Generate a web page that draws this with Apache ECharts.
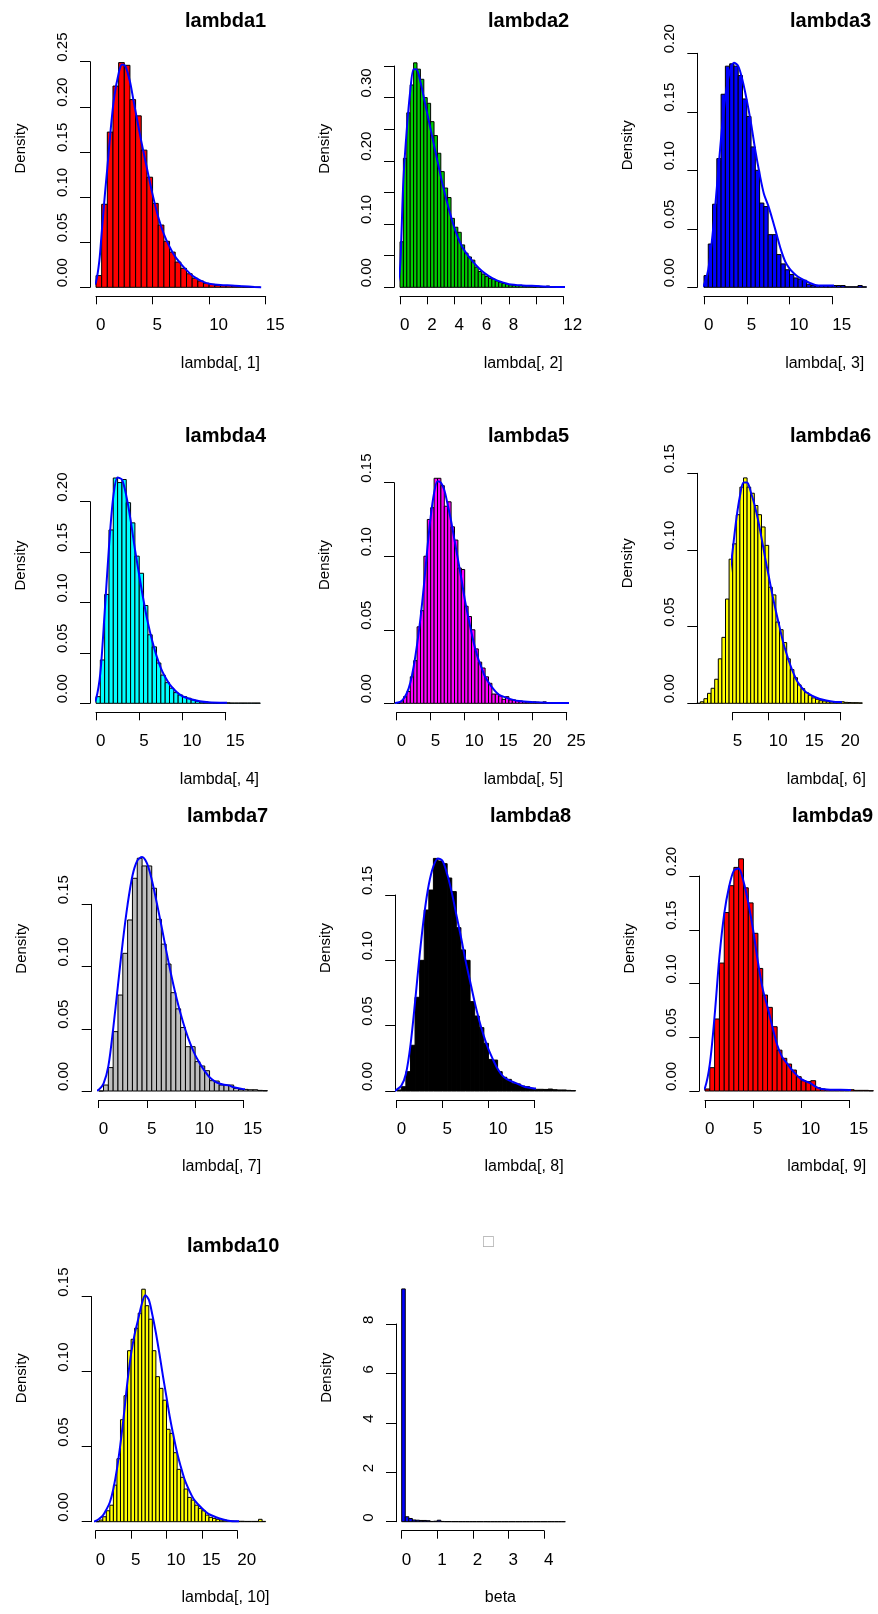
<!DOCTYPE html>
<html>

<head>
    <meta charset="UTF-8">
    <title>lambda histograms</title>
    <script src="https://cdn.jsdelivr.net/npm/echarts@6/dist/echarts.min.js"></script>
    <style>
        html, body { margin: 0; padding: 0; background: #fff; }
        #chart { width: 878px; height: 1614px; }
    </style>
</head>

<body>
    <div id="chart"></div>
    <script>
        // histogram densities (bin width given per panel, bins start at 0)
        const hist1 = [0.013, 0.092, 0.172, 0.223, 0.249, 0.246, 0.208, 0.190, 0.152, 0.122, 0.093, 0.069, 0.051, 0.039, 0.028, 0.021, 0.015, 0.010, 0.007, 0.0045, 0.0033, 0.002, 0.0018, 0.0018, 0.0015, 0.001, 0.0005, 0.0003, 0.0002];
        const hist2 = [0.072, 0.204, 0.276, 0.320, 0.355, 0.345, 0.329, 0.300, 0.291, 0.262, 0.240, 0.212, 0.183, 0.157, 0.142, 0.109, 0.095, 0.087, 0.067, 0.054, 0.048, 0.043, 0.032, 0.025, 0.021, 0.017, 0.014, 0.013, 0.010, 0.008, 0.006, 0.005, 0.004, 0.003, 0.003, 0.003, 0.002, 0.002, 0.001, 0.0005, 0.002, 0.0005, 0.0005, 0.002, 0.0005, 0.0003];
        const hist3 = [0.010, 0.037, 0.071, 0.110, 0.165, 0.189, 0.191, 0.189, 0.181, 0.161, 0.146, 0.120, 0.100, 0.072, 0.069, 0.045, 0.045, 0.028, 0.020, 0.015, 0.011, 0.008, 0.007, 0.006, 0.0026, 0.0015, 0.0015, 0.0015, 0.0015, 0.0015, 0.0015, 0.0015, 0.0015, 0.0005, 0.0005, 0.0005, 0.0015, 0.0005];
        const hist4 = [0.0066, 0.043, 0.108, 0.172, 0.2235, 0.219, 0.222, 0.199, 0.179, 0.146, 0.129, 0.097, 0.068, 0.056, 0.040, 0.028, 0.0205, 0.015, 0.0106, 0.0083, 0.0066, 0.005, 0.0033, 0.002, 0.0013, 0.0013, 0.0007, 0.0005, 0.0005, 0.0005, 0.0005, 0.0003, 0.0003, 0.0003, 0.0003, 0.0003, 0.0003, 0.0003];
        const hist5 = [0, 0.001, 0.0045, 0.008, 0.018, 0.029, 0.052, 0.063, 0.100, 0.125, 0.133, 0.153, 0.153, 0.148, 0.134, 0.137, 0.120, 0.111, 0.092, 0.091, 0.066, 0.059, 0.050, 0.037, 0.028, 0.024, 0.018, 0.0136, 0.0063, 0.0063, 0.005, 0.0027, 0.0045, 0.0023, 0.0023, 0.0018, 0.0016, 0.001, 0.0008, 0.0008, 0.001, 0.0008, 0.0006, 0.001, 0.0005, 0.0004, 0.0004, 0.0003];
        const hist6 = [0, 0.001, 0.003, 0.0065, 0.0098, 0.0157, 0.029, 0.043, 0.068, 0.094, 0.104, 0.123, 0.141, 0.147, 0.141, 0.137, 0.129, 0.123, 0.115, 0.103, 0.0757, 0.0707, 0.053, 0.048, 0.0396, 0.029, 0.022, 0.0167, 0.012, 0.0096, 0.007, 0.0052, 0.0035, 0.0026, 0.0017, 0.0015, 0.001, 0.0009, 0.0007, 0.0009, 0.001, 0.0006, 0.0005, 0.0004, 0.0004, 0.0003];
        const hist7 = [0, 0.0048, 0.0188, 0.0477, 0.0771, 0.1106, 0.1374, 0.1709, 0.187, 0.1808, 0.1808, 0.1629, 0.138, 0.118, 0.102, 0.079, 0.066, 0.051, 0.0356, 0.0356, 0.0236, 0.0201, 0.0163, 0.0083, 0.0080, 0.0048, 0.0048, 0.0048, 0.0021, 0.0013, 0.0013, 0.001, 0.001, 0.0005, 0.0003];
        const hist8 = [0.0008, 0.0033, 0.0148, 0.035, 0.0717, 0.100, 0.1385, 0.1538, 0.178, 0.176, 0.174, 0.163, 0.1526, 0.125, 0.108, 0.100, 0.0684, 0.0574, 0.0485, 0.0365, 0.0242, 0.0237, 0.0148, 0.0105, 0.0089, 0.0059, 0.0054, 0.0038, 0.0033, 0.002, 0.0013, 0.0013, 0.0012, 0.0015, 0.001, 0.0008, 0.0008, 0.0005, 0.0003];
        const hist9 = [0.0019, 0.0217, 0.067, 0.119, 0.166, 0.191, 0.208, 0.216, 0.189, 0.175, 0.1467, 0.114, 0.0893, 0.0778, 0.0598, 0.038, 0.0304, 0.0251, 0.0195, 0.0133, 0.0096, 0.0087, 0.0096, 0.0031, 0.0019, 0.0012, 0.0012, 0.0012, 0.0012, 0.0012, 0.0012, 0.0006, 0.0006, 0.0006, 0.0003];
        const hist10 = [0, 0.0011, 0.0033, 0.0073, 0.011, 0.0244, 0.042, 0.068, 0.084, 0.114, 0.1216, 0.129, 0.139, 0.155, 0.144, 0.135, 0.114, 0.0967, 0.0889, 0.081, 0.0616, 0.0589, 0.046, 0.0349, 0.0296, 0.0218, 0.0162, 0.0144, 0.011, 0.0089, 0.0073, 0.0044, 0.0029, 0.0022, 0.0016, 0.0011, 0.0011, 0.0007, 0.0005, 0.0004, 0.0003, 0.0003, 0.0002, 0.0002, 0.0002, 0.0002, 0.0016, 0.0002];
        const histBeta = [9.42, 0.20, 0.13, 0.07, 0.06, 0.05, 0.05, 0.04, 0.01, 0.02, 0.06, 0.01, 0.005, 0.005, 0.004, 0.004, 0.003, 0.003, 0.003, 0.002, 0.002, 0.002, 0.002, 0.002, 0.001, 0.001, 0.001, 0.001, 0.001, 0.001, 0.001, 0.001, 0.001, 0.001, 0.001, 0.001, 0.001, 0.001, 0.001, 0.001, 0.001, 0.001, 0.001, 0.001, 0.001, 0.001];

        // kernel density curves [x, density]
        const dens1 = [[-0.6, 0], [-0.3, 0.001], [0, 0.006], [0.3, 0.03], [0.5, 0.06], [0.8, 0.105], [1, 0.132], [1.3, 0.175], [1.6, 0.21], [2, 0.237], [2.3, 0.247], [2.6, 0.245], [3, 0.228], [3.3, 0.208], [3.6, 0.188], [4, 0.162], [4.5, 0.132], [5, 0.103], [5.5, 0.078], [6, 0.059], [6.5, 0.045], [7, 0.034], [7.5, 0.026], [8, 0.019], [8.5, 0.013], [9, 0.009], [9.5, 0.006], [10, 0.004], [11, 0.0025], [12, 0.002], [13, 0.0012], [14, 0.0004], [14.6, 0.0001]];
        const dens2 = [[-0.5, 0], [-0.2, 0.005], [0, 0.03], [0.1, 0.08], [0.25, 0.17], [0.5, 0.25], [0.75, 0.31], [1, 0.345], [1.2, 0.345], [1.5, 0.325], [1.8, 0.295], [2.1, 0.265], [2.4, 0.235], [2.7, 0.205], [3, 0.175], [3.3, 0.148], [3.6, 0.123], [4, 0.094], [4.5, 0.067], [5, 0.05], [5.5, 0.037], [6, 0.026], [6.5, 0.018], [7, 0.012], [7.5, 0.008], [8, 0.005], [9, 0.003], [10, 0.002], [11, 0.001], [12.4, 0.0002]];
        const dens3 = [[-0.3, 0], [0, 0.002], [0.5, 0.015], [1, 0.045], [1.5, 0.085], [2, 0.128], [2.5, 0.163], [3, 0.184], [3.5, 0.192], [4, 0.189], [4.5, 0.177], [5, 0.16], [5.5, 0.14], [6, 0.117], [6.5, 0.097], [7, 0.08], [7.5, 0.07], [8, 0.058], [8.5, 0.045], [9, 0.032], [9.5, 0.022], [10, 0.016], [10.5, 0.012], [11, 0.009], [12, 0.005], [13, 0.002], [14, 0.0015], [16, 0.0015], [17, 0.0005], [18, 0.0005], [20, 0.0002]];
        const dens4 = [[-0.4, 0], [0, 0.004], [0.5, 0.03], [1, 0.09], [1.5, 0.155], [2, 0.205], [2.5, 0.224], [3, 0.222], [3.5, 0.206], [4, 0.182], [4.5, 0.153], [5, 0.127], [5.5, 0.102], [6, 0.08], [6.5, 0.062], [7, 0.047], [7.5, 0.035], [8, 0.026], [8.5, 0.019], [9, 0.014], [9.5, 0.01], [10, 0.007], [11, 0.004], [12, 0.002], [13, 0.001], [15, 0.0005], [19.5, 0.0001]];
        const dens5 = [[-0.5, 0], [0.5, 0.001], [1, 0.003], [1.5, 0.007], [2, 0.014], [2.5, 0.025], [3, 0.04], [3.5, 0.058], [4, 0.08], [4.5, 0.105], [5, 0.127], [5.5, 0.143], [6, 0.151], [6.5, 0.15], [7, 0.145], [7.5, 0.135], [8, 0.124], [8.5, 0.111], [9, 0.098], [9.5, 0.085], [10, 0.071], [10.5, 0.059], [11, 0.048], [11.5, 0.038], [12, 0.03], [12.5, 0.024], [13, 0.018], [14, 0.011], [15, 0.006], [16, 0.004], [17, 0.0025], [18, 0.0015], [20, 0.0008], [22, 0.0004], [25.8, 0.0001]];
        const dens6 = [[0, 0], [0.5, 0.0005], [1, 0.002], [2, 0.008], [2.5, 0.014], [3, 0.025], [3.5, 0.04], [4, 0.058], [4.5, 0.08], [5, 0.1], [5.5, 0.12], [6, 0.135], [6.5, 0.144], [7, 0.144], [7.5, 0.138], [8, 0.13], [8.5, 0.12], [9, 0.108], [9.5, 0.095], [10, 0.083], [10.5, 0.071], [11, 0.06], [11.5, 0.05], [12, 0.04], [12.5, 0.032], [13, 0.025], [13.5, 0.019], [14, 0.014], [15, 0.008], [16, 0.005], [17, 0.003], [18, 0.0018], [19, 0.001], [20, 0.0008], [22, 0.0004], [24.8, 0.0001]];
        const dens7 = [[-0.4, 0], [0, 0.001], [0.5, 0.006], [1, 0.02], [1.5, 0.05], [2, 0.085], [2.5, 0.12], [3, 0.15], [3.5, 0.173], [4, 0.185], [4.5, 0.188], [5, 0.183], [5.5, 0.17], [6, 0.152], [6.5, 0.133], [7, 0.113], [7.5, 0.094], [8, 0.077], [8.5, 0.062], [9, 0.049], [9.5, 0.038], [10, 0.029], [10.5, 0.022], [11, 0.016], [11.5, 0.011], [12, 0.008], [12.5, 0.006], [13, 0.005], [13.5, 0.0045], [14, 0.003], [15, 0.0015], [16, 0.001], [17.6, 0.0002]];
        const dens8 = [[-0.2, 0], [0, 0.001], [0.5, 0.004], [1, 0.013], [1.5, 0.035], [2, 0.068], [2.5, 0.104], [3, 0.135], [3.5, 0.158], [4, 0.172], [4.5, 0.178], [5, 0.176], [5.5, 0.166], [6, 0.152], [6.5, 0.135], [7, 0.118], [7.5, 0.1], [8, 0.084], [8.5, 0.068], [9, 0.054], [9.5, 0.042], [10, 0.032], [10.5, 0.024], [11, 0.017], [11.5, 0.012], [12, 0.009], [13, 0.006], [14, 0.003], [15, 0.002], [16, 0.0015], [17, 0.001], [19.3, 0.0002]];
        const dens9 = [[-0.4, 0], [0, 0.003], [0.5, 0.025], [1, 0.07], [1.5, 0.125], [2, 0.165], [2.5, 0.19], [3, 0.205], [3.5, 0.207], [4, 0.195], [4.5, 0.175], [5, 0.15], [5.5, 0.12], [6, 0.095], [6.5, 0.078], [7, 0.06], [7.5, 0.043], [8, 0.032], [8.5, 0.026], [9, 0.02], [9.5, 0.015], [10, 0.011], [10.5, 0.009], [11, 0.007], [11.5, 0.004], [12, 0.002], [13, 0.0012], [15, 0.001], [17.5, 0.0002]];
        const dens10 = [[-0.3, 0], [0, 0.0005], [0.5, 0.002], [1, 0.004], [1.5, 0.008], [2, 0.013], [2.5, 0.022], [3, 0.035], [3.5, 0.052], [4, 0.072], [4.5, 0.094], [5, 0.112], [5.5, 0.125], [6, 0.135], [6.5, 0.145], [7, 0.151], [7.5, 0.148], [8, 0.138], [8.5, 0.126], [9, 0.112], [9.5, 0.097], [10, 0.083], [10.5, 0.069], [11, 0.057], [11.5, 0.046], [12, 0.037], [12.5, 0.029], [13, 0.023], [13.5, 0.018], [14, 0.014], [15, 0.009], [16, 0.005], [17, 0.003], [18, 0.0015], [19, 0.0005], [20, 0.0003], [22, 0.0002], [24.5, 0.0001]];

        // titles, x labels, fill colours
        const titles = ['lambda1', 'lambda2', 'lambda3', 'lambda4', 'lambda5', 'lambda6', 'lambda7', 'lambda8', 'lambda9', 'lambda10', '\u25A1'];
        const xNames = ['lambda[, 1]', 'lambda[, 2]', 'lambda[, 3]', 'lambda[, 4]', 'lambda[, 5]', 'lambda[, 6]', 'lambda[, 7]', 'lambda[, 8]', 'lambda[, 9]', 'lambda[, 10]', 'beta'];
        const fills = ['#FF0000', '#00CD00', '#0000FF', '#00FFFF', '#FF00FF', '#FFFF00', '#BEBEBE', '#000000', '#FF0000', '#FFFF00', '#0000FF'];

        const FONT = '"Liberation Sans", Arial, sans-serif';

        // panel layout (pixels) and axis ranges
        const panels = [
            { hist: hist1, bw: 0.5, dens: dens1, g: [96, 61.7, 169.7, 225.6], x: [0, 15, 5], y: [0, 0.25, 0.05], yOff: 6, tx: 180, ty: 18, xs: 0, ys: 1 },
            { hist: hist2, bw: 0.25, dens: dens2, g: [400, 66, 163.3, 221.3], x: [0, 12, 2], y: [0, 0.35, 0.05], yOff: 6, tx: 483, ty: 18, xs: 2, ys: 3, skipX: [10], oddY: true },
            { hist: hist3, bw: 0.5, dens: dens3, g: [704, 53.3, 128.3, 234], x: [0, 15, 5], y: [0, 0.20, 0.05], yOff: 6.7, tx: 785, ty: 18, xs: 17, ys: 0 },
            { hist: hist4, bw: 0.5, dens: dens4, g: [96, 501.7, 129.7, 201.6], x: [0, 15, 5], y: [0, 0.20, 0.05], yOff: 6, tx: 180, ty: 433, xs: 19, ys: 12 },
            { hist: hist5, bw: 0.5, dens: dens5, g: [396.7, 482.7, 170, 220.6], x: [0, 25, 5], y: [0, 0.15, 0.05], yOff: 2.7, tx: 483, ty: 433, xs: 2, ys: 3 },
            { hist: hist6, bw: 0.5, dens: dens6, g: [732.7, 473.3, 108, 230], x: [5, 20, 5], y: [0, 0.15, 0.05], yOff: 35.4, tx: 785, ty: 433, xs: 0, ys: 0 },
            { hist: hist7, bw: 0.5, dens: dens7, g: [98.7, 904.3, 144.6, 186.7], x: [0, 15, 5], y: [0, 0.15, 0.05], yOff: 7, tx: 182, ty: 813, xs: 11, ys: 24 },
            { hist: hist8, bw: 0.5, dens: dens8, g: [396.7, 895, 137.6, 196], x: [0, 15, 5], y: [0, 0.15, 0.05], yOff: 1.5, tx: 485, ty: 813, xs: 19, ys: 20 },
            { hist: hist9, bw: 0.5, dens: dens9, g: [705, 876, 144.3, 215], x: [0, 15, 5], y: [0, 0.20, 0.05], yOff: 5.7, tx: 787, ty: 813, xs: 10, ys: 10 },
            { hist: hist10, bw: 0.5, dens: dens10, g: [95.7, 1296.7, 141.6, 225], x: [0, 20, 5], y: [0, 0.15, 0.05], yOff: 4, tx: 182, ty: 1243, xs: 15, ys: 6 },
            { hist: histBeta, bw: 0.1, dens: null, g: [401.7, 1324, 142.3, 197.7], x: [0, 4, 1], y: [0, 8, 2], yOff: 5.7, tx: 478, ty: 1240, xs: 12, ys: 20, intY: true }
        ];

        const chart = echarts.init(document.getElementById('chart'), null, { renderer: 'canvas' });

        const grid = [], xAxis = [], yAxis = [], series = [], title = [];

        panels.forEach((p, i) => {
            grid.push({ left: p.g[0], top: p.g[1], width: p.g[2], height: p.g[3], containLabel: false });

            title.push({
                text: titles[i], left: p.tx, top: p.ty - 12,
                textStyle: i === 10
                    ? { fontFamily: FONT, fontSize: 18, fontWeight: 'normal', color: '#aaa' }
                    : { fontFamily: FONT, fontSize: 20, fontWeight: 'bold', color: '#000' }
            });

            xAxis.push({
                type: 'value', gridIndex: i, min: p.x[0], max: p.x[1], interval: p.x[2],
                position: 'bottom', offset: 9,
                splitLine: { show: false },
                axisLine: { show: true, onZero: false, lineStyle: { color: '#000', width: 1 } },
                axisTick: { show: true, length: 8, lineStyle: { color: '#000' } },
                axisLabel: {
                    margin: 21, align: 'left', color: '#000', fontSize: 17, fontFamily: FONT,
                    formatter: v => (p.skipX && p.skipX.includes(v)) ? '' : String(v)
                },
                name: xNames[i], nameLocation: 'middle', nameGap: 59,
                nameTextStyle: { align: 'left', color: '#000', fontSize: 16, fontFamily: FONT, padding: [0, 0, 0, p.xs] }
            });

            yAxis.push({
                type: 'value', gridIndex: i, min: p.y[0], max: p.y[1], interval: p.y[2],
                position: 'left', offset: p.yOff,
                splitLine: { show: false },
                axisLine: { show: true, onZero: false, lineStyle: { color: '#000', width: 1 } },
                axisTick: { show: true, length: 10, lineStyle: { color: '#000' } },
                axisLabel: {
                    rotate: 90, margin: 20, align: 'left', color: '#000', fontSize: 15, fontFamily: FONT,
                    formatter: v => {
                        if (p.intY) return String(Math.round(v));
                        if (p.oddY && Math.round(v * 100) % 10 !== 0) return '';
                        return v.toFixed(2);
                    }
                },
                name: 'Density', nameLocation: 'middle', nameGap: 62,
                nameTextStyle: { align: 'left', color: '#000', fontSize: 15, fontFamily: FONT, padding: [0, 0, 0, p.ys] }
            });

            const bins = p.hist.map((h, k) => [k * p.bw, (k + 1) * p.bw, h]);
            series.push({
                type: 'custom', xAxisIndex: i, yAxisIndex: i, clip: false, silent: true,
                encode: { x: [0, 1], y: 2 },
                data: bins,
                renderItem: (params, api) => {
                    const a = api.coord([api.value(0), api.value(2)]);
                    const b = api.coord([api.value(1), 0]);
                    return {
                        type: 'rect',
                        shape: { x: a[0], y: a[1], width: b[0] - a[0], height: b[1] - a[1] },
                        style: { fill: fills[i], stroke: '#000', lineWidth: 1 }
                    };
                }
            });

            if (p.dens) {
                series.push({
                    type: 'line', xAxisIndex: i, yAxisIndex: i, clip: false, silent: true,
                    data: p.dens, showSymbol: false, smooth: 0.3,
                    lineStyle: { color: '#0000FF', width: 2 }
                });
            }
        });

        chart.setOption({
            backgroundColor: '#fff',
            animation: false,
            title, grid, xAxis, yAxis, series
        });
    </script>
</body>

</html>
